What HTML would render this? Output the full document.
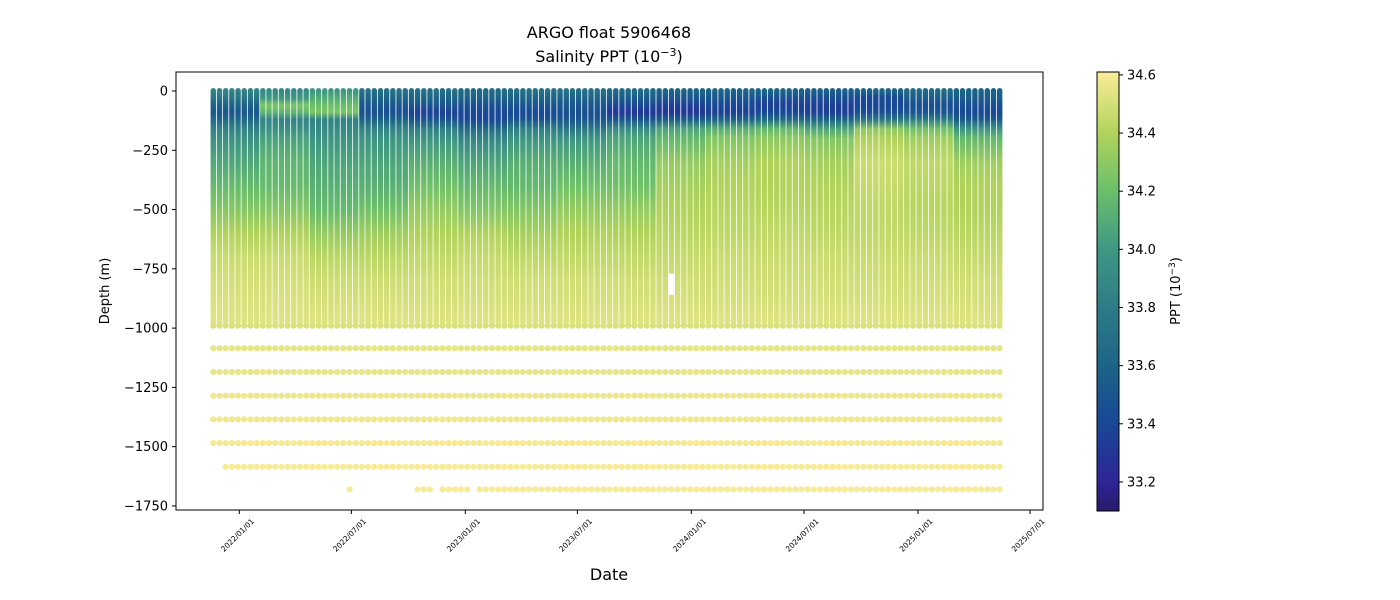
<!DOCTYPE html>
<html><head><meta charset="utf-8"><title>ARGO float 5906468 salinity</title>
<style>
html,body{margin:0;padding:0;background:#fff;}
svg{display:block;font-family:"DejaVu Sans","Liberation Sans",sans-serif;}
</style></head>
<body>
<svg id="chart" width="1400" height="600" viewBox="0 0 1400 600" xmlns="http://www.w3.org/2000/svg">
<defs id="defs"></defs>
<text x="609" y="38" text-anchor="middle" font-size="16" fill="#000">ARGO float 5906468</text>
<text x="609" y="62" text-anchor="middle" font-size="16" fill="#000">Salinity PPT (10<tspan font-size="11" dy="-6">−3</tspan><tspan dy="6">)</tspan></text>
<g id="plot"></g>
<rect x="176" y="72" width="867" height="438" fill="none" stroke="#000" stroke-width="1"/>
<g id="yaxis"></g>
<g id="xaxis"></g>
<text x="0" y="0" transform="translate(109,291) rotate(-90)" text-anchor="middle" font-size="13">Depth (m)</text>
<text x="609" y="580" text-anchor="middle" font-size="16">Date</text>
<g id="cbar"></g>
<text x="0" y="0" transform="translate(1180,291) rotate(-90)" text-anchor="middle" font-size="13">PPT (10<tspan font-size="9" dy="-5">−3</tspan><tspan dy="5">)</tspan></text>
</svg>
<script>
// ---- data ----
const startDate = "2021-11-20";
const cycleDays = 10;
const profileCount = 128;
const depthLevels = [0,30,60,90,120,160,200,300,400,500,600,700,800,900,975];
// salinity per time segment (8 profiles each), values at depthLevels
const seg0  = [33.85,33.75,33.60,33.50,33.65,33.85,33.95,34.08,34.18,34.28,34.40,34.47,34.50,34.52,34.53];
const seg1  = [33.90,34.00,34.25,34.15,33.85,33.95,34.05,34.15,34.18,34.28,34.40,34.47,34.50,34.52,34.53];
const seg2  = [34.00,34.10,34.20,34.25,33.85,33.90,33.97,34.07,34.12,34.18,34.32,34.43,34.48,34.51,34.53];
const seg3  = [33.70,33.60,33.50,33.45,33.60,33.85,33.97,34.07,34.12,34.22,34.35,34.43,34.48,34.51,34.53];
const seg4  = [33.70,33.60,33.50,33.35,33.50,33.82,33.97,34.12,34.22,34.32,34.40,34.45,34.49,34.51,34.53];
const seg5  = [33.65,33.60,33.45,33.40,33.40,33.67,33.87,34.07,34.17,34.27,34.40,34.46,34.49,34.51,34.53];
const seg6  = [33.70,33.60,33.50,33.40,33.50,33.82,33.97,34.12,34.17,34.27,34.37,34.44,34.49,34.51,34.53];
const seg7  = [33.70,33.60,33.50,33.45,33.50,33.77,33.97,34.12,34.22,34.32,34.40,34.45,34.49,34.51,34.53];
const seg8  = [33.65,33.55,33.40,33.30,33.50,33.92,34.07,34.17,34.22,34.32,34.40,34.45,34.49,34.51,34.53];
const seg9  = [33.60,33.50,33.35,33.30,33.55,34.07,34.17,34.32,34.37,34.40,34.43,34.46,34.49,34.51,34.53];
const seg10 = [33.60,33.50,33.40,33.35,33.60,34.12,34.27,34.37,34.40,34.42,34.44,34.47,34.49,34.51,34.53];
const seg11 = [33.60,33.45,33.35,33.40,33.65,34.17,34.30,34.40,34.40,34.42,34.45,34.47,34.49,34.51,34.53];
const seg12 = [33.55,33.45,33.35,33.35,33.60,34.07,34.27,34.37,34.40,34.42,34.44,34.47,34.49,34.51,34.53];
const seg13 = [33.60,33.40,33.40,33.45,33.75,34.30,34.40,34.47,34.46,34.44,34.45,34.47,34.49,34.51,34.53];
const seg14 = [33.65,33.55,33.45,33.50,33.80,34.22,34.35,34.44,34.43,34.42,34.44,34.47,34.49,34.51,34.53];
const seg15 = [33.60,33.55,33.45,33.40,33.55,33.97,34.17,34.35,34.40,34.40,34.43,34.46,34.49,34.51,34.53];
const segments = [seg0,seg1,seg2,seg3,seg4,seg5,seg6,seg7,seg8,seg9,seg10,seg11,seg12,seg13,seg14,seg15];
const profilesPerSegment = 8;
const deepDepths = [990,1085,1185,1285,1385,1485,1585,1680];
const deepSalinity = [34.52,34.55,34.56,34.57,34.58,34.59,34.60,34.60];
const deepStartIndex = [0,0,0,0,0,0,2,43];
const extraDeepProfiles = [22,33,34,35,37,38,39,40,41]; // sporadic 1680 m points
const gapProfile = 74;
const gapDepths = [770,860];
const yTicks = [0,-250,-500,-750,-1000,-1250,-1500,-1750];
const xTickDates = ["2022/01/01","2022/07/01","2023/01/01","2023/07/01","2024/01/01","2024/07/01","2025/01/01","2025/07/01"];
const cbarTicks = [33.2,33.4,33.6,33.8,34.0,34.2,34.4,34.6];
const vmin = 33.1, vmax = 34.61;

// ---- scales ----
const NS="http://www.w3.org/2000/svg";
const ref = Date.UTC(2022,0,1);
function dayOf(s){const p=s.split(/[-\/]/).map(Number);return (Date.UTC(p[0],p[1]-1,p[2])-ref)/86400000;}
function xScale(days){return 239.3 + days*0.6192;}
function yScale(d){return 91 - d*0.2371;} // d = plotted depth (negative)
const cmapStops=[[0,[41,26,105]],[0.066,[46,36,150]],[0.2,[24,72,150]],[0.33,[28,100,135]],[0.46,[45,123,135]],[0.6,[63,153,131]],[0.73,[107,191,106]],[0.865,[179,212,92]],[1,[251,236,153]]];
function color(v){let t=(v-vmin)/(vmax-vmin);t=Math.max(0,Math.min(1,t));
  for(let i=1;i<cmapStops.length;i++){if(t<=cmapStops[i][0]){const a=cmapStops[i-1],b=cmapStops[i];const f=(t-a[0])/(b[0]-a[0]);
    const c=a[1].map((x,k)=>Math.round(x+(b[1][k]-x)*f));return `rgb(${c[0]},${c[1]},${c[2]})`;}}
  return "rgb(251,236,153)";}
function mk(tag,attrs,parent){const e=document.createElementNS(NS,tag);for(const k in attrs)e.setAttribute(k,attrs[k]);parent.appendChild(e);return e;}

const defs=document.getElementById('defs');
const plot=document.getElementById('plot');
const y0=yScale(0), yEnd=yScale(-depthLevels[depthLevels.length-1]);
segments.forEach((s,k)=>{
  const g=mk('linearGradient',{id:'seg'+k,gradientUnits:'userSpaceOnUse',x1:0,y1:y0,x2:0,y2:yEnd},defs);
  s.forEach((v,j)=>{mk('stop',{offset:(depthLevels[j]/depthLevels[depthLevels.length-1]).toFixed(4),'stop-color':color(v)},g);});
});
const start=dayOf(startDate);
for(let i=0;i<profileCount;i++){
  const x=xScale(start+i*cycleDays);
  const k=Math.min(segments.length-1,Math.floor(i/profilesPerSegment));
  const r=mk('rect',{x:(x-2.7).toFixed(2),y:(y0-3).toFixed(2),width:5.4,height:(yEnd-y0+6).toFixed(2),rx:2.7,fill:`url(#seg${k})`},plot);
  
  
  if(i===gapProfile){
    const gp=mk('rect',{x:(x-3.1).toFixed(2),y:yScale(-gapDepths[0]).toFixed(2),width:6.2,height:(yScale(-gapDepths[1])-yScale(-gapDepths[0])).toFixed(2),fill:'#fff'},plot);
    
    
  }
  deepDepths.forEach((d,j)=>{
    const present = i>=deepStartIndex[j] || (j===deepDepths.length-1 && extraDeepProfiles.includes(i));
    if(!present) return;
    const c=mk('circle',{cx:x.toFixed(2),cy:yScale(-d).toFixed(2),r:3.1,fill:color(deepSalinity[j])},plot);
    
    
  });
}

// y axis
const ya=document.getElementById('yaxis');
yTicks.forEach(v=>{const y=yScale(v);
  mk('line',{x1:172,x2:176,y1:y,y2:y,stroke:'#000'},ya);
  const t=mk('text',{x:168,y:y+4.5,'text-anchor':'end','font-size':13},ya);
  t.textContent=v<0?'−'+Math.abs(v):String(v);
  
  
});
// x axis
const xa=document.getElementById('xaxis');
xTickDates.forEach(s=>{const x=xScale(dayOf(s));
  mk('line',{x1:x,x2:x,y1:510,y2:514,stroke:'#000'},xa);
  const t=mk('text',{x:0,y:0,transform:`translate(${x},${537}) rotate(-45)`,'text-anchor':'middle','font-size':7.5},xa);
  t.textContent=s;
  
  
});
// colorbar
const cb=document.getElementById('cbar');
const cbTop=72, cbBot=511;
function cbY(v){return cbBot-(v-vmin)/(vmax-vmin)*(cbBot-cbTop);}
const cg=mk('linearGradient',{id:'cbgrad',x1:0,y1:1,x2:0,y2:0},defs);
cmapStops.forEach(s=>mk('stop',{offset:s[0],'stop-color':`rgb(${s[1].join(',')})`},cg));
const cr=mk('rect',{x:1097,y:cbTop,width:22,height:cbBot-cbTop,fill:'url(#cbgrad)',stroke:'#000','stroke-width':1},cb);


cbarTicks.forEach(v=>{const y=cbY(v);
  mk('line',{x1:1119,x2:1123,y1:y,y2:y,stroke:'#000'},cb);
  const t=mk('text',{x:1127,y:y+4.5,'font-size':13},cb);
  t.textContent=v.toFixed(1);
  
  
});
</script>
</body></html>
